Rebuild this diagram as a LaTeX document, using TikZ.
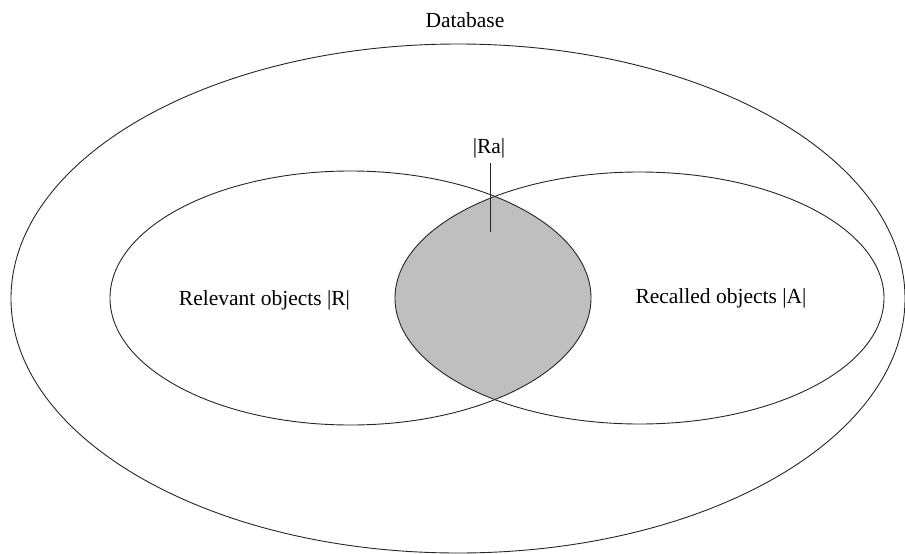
\documentclass[tikz,border=0pt]{standalone}
\usepackage{fontspec}
\setmainfont{Liberation Serif}
\begin{document}
\begin{tikzpicture}[x=1pt,y=-1pt,
  outline/.style={draw=black!85, line width=0.9pt},
  label/.style={font=\fontsize{21.5}{26}\selectfont, inner sep=0pt}]
  \useasboundingbox (0,0) rectangle (905,554);
  % overlap of the two sets
  \begin{scope}
    \clip (350.5,298) ellipse [x radius=240.5, y radius=127];
    \fill[black!25] (639.5,298) ellipse [x radius=244.5, y radius=126];
  \end{scope}
  % database and the two sets
  \draw[outline] (458,298.5) ellipse [x radius=447, y radius=254.5];
  \draw[outline] (350.5,298) ellipse [x radius=240.5, y radius=127];
  \draw[outline] (639.5,298) ellipse [x radius=244.5, y radius=126];
  % labels
  \node[label] (db) at (465,20) {Database};
  \node[label] (ra) at (489,148) {|Ra|};
  \node[label] (rel) at (264.5,300) {Relevant objects |R|};
  \node[label] (rec) at (721,298) {Recalled objects |A|};
  % pointer to the overlap
  \coordinate (tickend) at (490,232);
  \draw[outline] (490,163) -- (tickend);
\end{tikzpicture}
\end{document}
